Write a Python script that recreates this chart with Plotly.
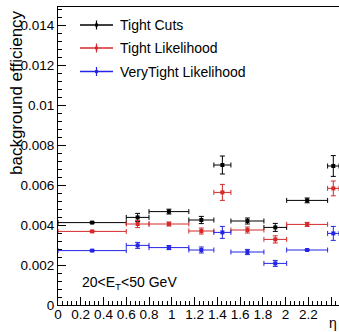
import plotly.graph_objects as go

# eta bin edges
bin_lo = [0.0, 0.6, 0.8, 1.15, 1.37, 1.52, 1.81, 2.01, 2.37]
bin_hi = [0.6, 0.8, 1.15, 1.37, 1.52, 1.81, 2.01, 2.37, 2.47]

tight_cuts = [0.00412, 0.00438, 0.00467, 0.00425, 0.00700, 0.00420, 0.00388, 0.00523, 0.00695]
tight_cuts_err = [0.00003, 0.00020, 0.00012, 0.00018, 0.00045, 0.00015, 0.00020, 0.00012, 0.00052]

tight_lh = [0.00368, 0.00405, 0.00405, 0.00370, 0.00563, 0.00375, 0.00328, 0.00403, 0.00583]
tight_lh_err = [0.00003, 0.00018, 0.00010, 0.00015, 0.00040, 0.00015, 0.00018, 0.00010, 0.00037]

vtight_lh = [0.00272, 0.00298, 0.00287, 0.00275, 0.00363, 0.00265, 0.00208, 0.00275, 0.00358]
vtight_lh_err = [0.00003, 0.00015, 0.00010, 0.00015, 0.00030, 0.00013, 0.00015, 0.00003, 0.00035]

series_names = ["Tight Cuts", "Tight Likelihood", "VeryTight Likelihood"]
series_colors = ["#000000", "#d42a2a", "#2424e6"]
series_vals = [tight_cuts, tight_lh, vtight_lh]
series_errs = [tight_cuts_err, tight_lh_err, vtight_lh_err]

x_center = [(a + b) / 2 for a, b in zip(bin_lo, bin_hi)]
x_half = [(b - a) / 2 for a, b in zip(bin_lo, bin_hi)]

W, H = 339, 332
ML, MR, MT, MB = 58, 0, 7, 27
PW, PH = W - ML - MR, H - MT - MB


def px(xp):
    return (xp - ML) / PW


def py(yp):
    return (H - MB - yp) / PH


fig = go.Figure()
for name, col, vals, errs in zip(series_names, series_colors, series_vals, series_errs):
    fig.add_trace(go.Scatter(
        x=x_center, y=vals, mode="markers", name=name,
        marker=dict(color=col, size=4, symbol="square"),
        error_x=dict(type="data", array=x_half, color=col, thickness=1, width=2.5),
        error_y=dict(type="data", array=errs, color=col, thickness=1, width=2.5),
        showlegend=False, cliponaxis=False,
    ))

font = "Liberation Sans, Arial, Helvetica, sans-serif"
shapes = []
annotations = []
legend_rows = [25, 48, 71.5]
for name, col, yrow in zip(series_names, series_colors, legend_rows):
    shapes.append(dict(type="line", xref="paper", yref="paper",
                       x0=px(80), x1=px(113), y0=py(yrow), y1=py(yrow),
                       line=dict(color=col, width=1.3)))
    shapes.append(dict(type="line", xref="paper", yref="paper",
                       x0=px(96.5), x1=px(96.5), y0=py(yrow - 4.5), y1=py(yrow + 4.5),
                       line=dict(color=col, width=1.2)))
    shapes.append(dict(type="rect", xref="paper", yref="paper",
                       x0=px(95), x1=px(98), y0=py(yrow - 1.5), y1=py(yrow + 1.5),
                       fillcolor=col, line=dict(width=0)))
    annotations.append(dict(text=name, xref="paper", yref="paper",
                            x=px(118), y=py(yrow), xanchor="left", yanchor="middle",
                            showarrow=False, font=dict(family=font, size=14, color="#000")))

annotations.append(dict(text="background efficiency", xref="paper", yref="paper",
                        x=px(16), y=py(93), xanchor="center", yanchor="middle",
                        textangle=-90, showarrow=False,
                        font=dict(family=font, size=17, color="#000")))
annotations.append(dict(text="20&lt;E<sub>T</sub>&lt;50 GeV", xref="paper", yref="paper",
                        x=px(80), y=py(283), xanchor="left", yanchor="middle",
                        showarrow=False, font=dict(family=font, size=14, color="#000")))
annotations.append(dict(text="η", xref="paper", yref="paper",
                        x=px(333), y=py(323), xanchor="center", yanchor="middle",
                        showarrow=False, font=dict(family=font, size=14, color="#000")))

fig.update_layout(
    width=W, height=H,
    margin=dict(l=ML, r=MR, t=MT, b=MB, pad=0, autoexpand=False),
    paper_bgcolor="white", plot_bgcolor="white",
    shapes=shapes, annotations=annotations,
    font=dict(family=font, size=13, color="#000"),
    xaxis=dict(range=[0, 2.47], tickmode="linear", tick0=0, dtick=0.2,
               ticks="inside", ticklen=8, tickcolor="#000", tickwidth=1,
               minor=dict(ticks="inside", ticklen=4, dtick=0.04, tickcolor="#000", showgrid=False),
               showline=True, linecolor="#000", linewidth=1, mirror=True,
               showgrid=False, zeroline=False, tickformat="~g", automargin=False,
               ticklabelstandoff=-3,
               tickfont=dict(family=font, size=13.5)),
    yaxis=dict(range=[0, 0.0149], tickmode="linear", tick0=0, dtick=0.002,
               ticks="inside", ticklen=8, tickcolor="#000", tickwidth=1,
               minor=dict(ticks="inside", ticklen=4, dtick=0.0004, tickcolor="#000", showgrid=False),
               showline=True, linecolor="#000", linewidth=1, mirror=False,
               showgrid=False, zeroline=False, tickformat="~g", automargin=False,
               tickfont=dict(family=font, size=13.5)),
)

fig.write_html(
    "out.html",
    config={"displayModeBar": False},
    post_script="document.body.style.margin='0';document.body.style.overflow='hidden';",
)
